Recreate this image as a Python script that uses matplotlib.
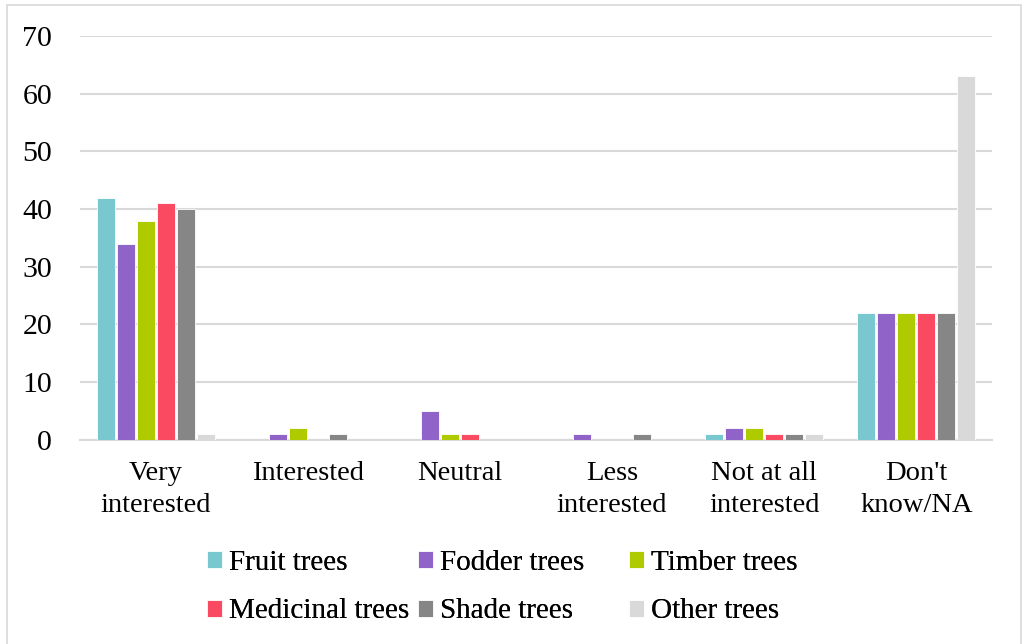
import numpy as np
import matplotlib.pyplot as plt
from matplotlib.patches import Rectangle

# categorias de interesse e respostas por tipo de árvore
categorias = ["Very\ninterested", "Interested", "Neutral", "Less\ninterested",
              "Not at all\ninterested", "Don't\nknow/NA"]
series = ["Fruit trees", "Fodder trees", "Timber trees",
          "Medicinal trees", "Shade trees", "Other trees"]
fruit = [42, 0, 0, 0, 1, 22]
fodder = [34, 1, 5, 1, 2, 22]
timber = [38, 2, 1, 0, 2, 22]
medicinal = [41, 0, 1, 0, 1, 22]
shade = [40, 1, 0, 1, 1, 22]
other = [1, 0, 0, 0, 1, 63]
valores = [fruit, fodder, timber, medicinal, shade, other]

cores = ["#79C8D0", "#9063C9", "#B0CA00", "#FA4A62", "#868686", "#D9D9D9"]

plt.rcParams['font.family'] = ['Liberation Serif', 'DejaVu Serif']

fig = plt.figure(figsize=(10.23, 6.44), dpi=100)
ax = fig.add_axes([0.078, 0.317, 0.892, 0.627])

x = np.arange(len(categorias))
passo = 0.1316
largura = 0.117
barras = []
for i, (nome, v) in enumerate(zip(series, valores)):
    desloc = (i - 2.5) * passo
    b = ax.bar(x + desloc, v, largura, color=cores[i], label=nome,
               edgecolor='white', linewidth=0.6, zorder=3)
    barras.append(b)

ax.set_xlim(-0.5, len(categorias) - 0.5)
ax.set_ylim(0, 70)
ax.set_yticks(range(0, 71, 10))
ax.grid(axis='y', color='#D9D9D9', linewidth=1.5, zorder=0)
ax.set_xticks(x)
ax.set_xticklabels(categorias, fontsize=20.5, linespacing=1.4, va='top')
ax.tick_params(axis='x', length=0, pad=15)
ax.tick_params(axis='y', length=0, labelsize=21.5, pad=20)
for s in ['top', 'right', 'left']:
    ax.spines[s].set_visible(False)
ax.spines['bottom'].set_color('#D9D9D9')
ax.spines['bottom'].set_linewidth(1.5)

# legenda: três colunas de largura fixa, duas linhas
colunas = [(0, 3), (1, 4), (2, 5)]
pos_x = [0.2023, 0.4086, 0.6149]
for (a, b), px in zip(colunas, pos_x):
    leg = fig.legend([barras[a], barras[b]], [series[a], series[b]],
                     loc='center left', bbox_to_anchor=(px, 0.0885), ncol=1,
                     frameon=False, fontsize=21, handlelength=0.52, handleheight=0.52,
                     handletextpad=0.22, labelspacing=0.78,
                     borderaxespad=0, borderpad=0)
    fig.add_artist(leg)

# moldura cinza em volta da figura
fig.patches.append(Rectangle((0.0068, -0.02), 0.991, 1.012, transform=fig.transFigure,
                             fill=False, edgecolor='#D9D9D9', linewidth=1.2))

fig.savefig('out.png', dpi=100)
